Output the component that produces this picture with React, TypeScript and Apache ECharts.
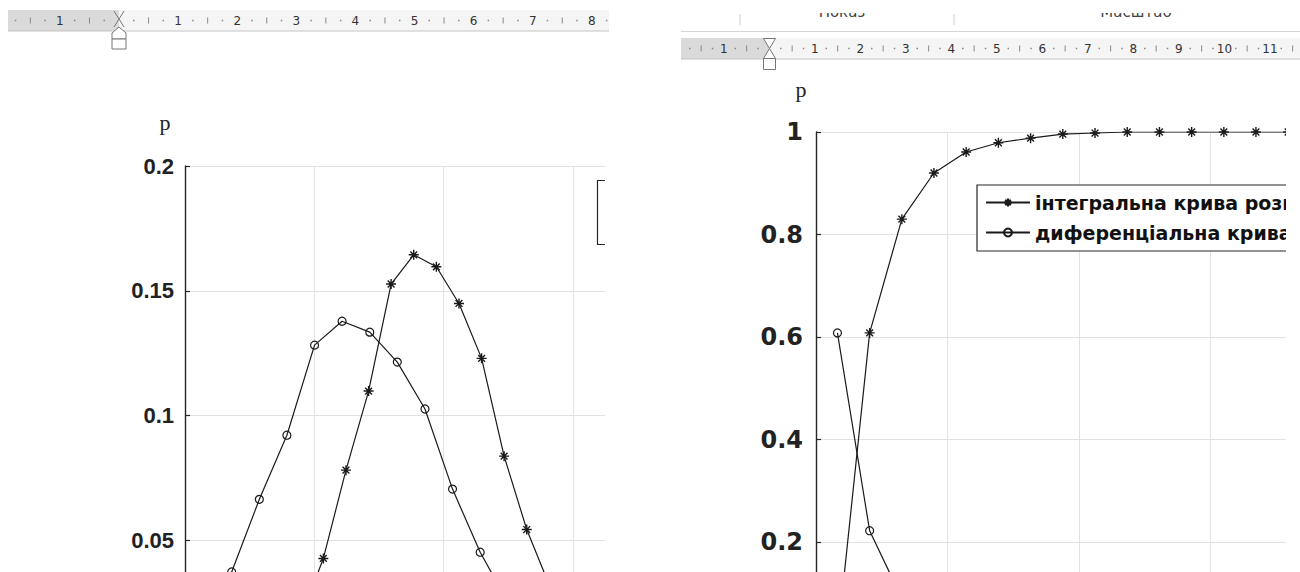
import React, { useEffect, useRef } from "react";
import * as echarts from "echarts";

// ---------- data (left chart: two distributions) ----------
const leftCircleX = [0.148, 0.361, 0.575, 0.788, 1.002, 1.215, 1.429, 1.642, 1.856, 2.069, 2.283, 2.496, 2.71, 2.923, 3.137];
const leftCircleP = [0.016, 0.0373, 0.0664, 0.0921, 0.1282, 0.1378, 0.1334, 0.1214, 0.1026, 0.0705, 0.0452, 0.0253, 0.012, 0.005, 0.002];
const leftStarX = [0.895, 1.07, 1.245, 1.42, 1.594, 1.769, 1.944, 2.119, 2.294, 2.468, 2.643, 2.818, 2.993, 3.168];
const leftStarP = [0.019, 0.0427, 0.0781, 0.1098, 0.1527, 0.1644, 0.1596, 0.1449, 0.1229, 0.0837, 0.0543, 0.032, 0.016, 0.007];
const leftYTicks = [0, 0.05, 0.1, 0.15, 0.2];
const leftYTickLabels = ["", "0.05", "0.1", "0.15", "0.2"];

// ---------- data (right chart: integral & differential curves) ----------
const rightX = [0.163, 0.408, 0.653, 0.897, 1.142, 1.387, 1.632, 1.877, 2.122, 2.367, 2.612, 2.857, 3.102, 3.346, 3.591];
const integralP = [0.01, 0.608, 0.83, 0.92, 0.961, 0.979, 0.988, 0.996, 0.998, 1, 1, 1, 1, 1, 1];
const differentialP = [0.608, 0.222, 0.09, 0.041, 0.018, 0.009, 0.008, 0.002, 0.002, 0, 0, 0, 0, 0, 0];
const rightYTicks = [0, 0.2, 0.4, 0.6, 0.8, 1];
const rightYTickLabels = ["", "0.2", "0.4", "0.6", "0.8", "1"];
const legendNames = ["інтегральна крива розподілу", "диференціальна крива розподілу"];

// ---------- ruler labels ----------
const leftRulerLabels = ["1", "1", "2", "3", "4", "5", "6", "7", "8"];
const rightRulerLabels = ["1", "1", "2", "3", "4", "5", "6", "7", "8", "9", "10", "11"];
const ribbonLabels = ["Показ", "Масштаб"];

const STAR = "path://M5,0L5,10M0,5L10,5M1.6,1.6L8.4,8.4M8.4,1.6L1.6,8.4";
const INK = "#1a1a1a";
const AXIS = "#262626";
const GRIDC = "#e2e2e2";
const WIDE_FONT = "'DejaVu Sans', Verdana, sans-serif";
const ARIAL = "'Liberation Sans', Arial, sans-serif";

const zip = (xs: number[], ys: number[]) => xs.map((x, i) => [x, ys[i]]);

const labelFor = (ticks: number[], labels: string[]) => (v: number) => {
  const i = ticks.findIndex((t) => Math.abs(t - v) < 1e-9);
  return i >= 0 ? labels[i] : "";
};

function rulerGraphics(
  startX: number, endX: number, zeroX: number, unit: number,
  top: number, h: number, labels: string[]
) {
  const els: any[] = [];
  els.push({ type: "rect", z: 110, shape: { x: startX, y: top, width: endX - startX, height: h }, style: { fill: "#f5f5f5", stroke: "none" } });
  els.push({ type: "rect", z: 110, shape: { x: startX, y: top, width: zeroX - startX, height: h }, style: { fill: "#dadada", stroke: "none" } });
  els.push({ type: "line", z: 111, shape: { x1: startX, y1: top + h, x2: endX, y2: top + h }, style: { stroke: "#c4c4c4", lineWidth: 1 } });
  const cy = top + h / 2;
  labels.forEach((lab, i) => {
    const x = i === 0 ? zeroX - unit : zeroX + i * unit;
    if (x > endX - 4) return;
    els.push({ type: "text", z: 112, x, y: cy, style: { text: lab, fill: "#333", font: "12px 'DejaVu Sans', Verdana, sans-serif", align: "center", verticalAlign: "middle" } });
  });
  for (let k = -3; k < labels.length + 1; k++) {
    [0.25, 0.5, 0.75].forEach((f) => {
      const x = zeroX + (k + f) * unit;
      if (x < startX + 3 || x > endX - 2) return;
      if (f === 0.5) {
        els.push({ type: "line", z: 112, shape: { x1: x, y1: cy - 3, x2: x, y2: cy + 3 }, style: { stroke: "#888", lineWidth: 1 } });
      } else {
        els.push({ type: "rect", z: 112, shape: { x: x - 0.75, y: cy - 0.75, width: 1.5, height: 1.5 }, style: { fill: "#888" } });
      }
    });
  }
  return els;
}

function buildOption() {
  const graphic: any[] = [];

  // clipping covers (the reference is two cropped screenshots)
  graphic.push({ type: "rect", z: 100, shape: { x: 605, y: 0, width: 76, height: 700 }, style: { fill: "#fff" } });
  graphic.push({ type: "rect", z: 100, shape: { x: 1286, y: 70, width: 20, height: 640 }, style: { fill: "#fff" } });

  // left legend box (only its left edge is visible)
  graphic.push({ type: "rect", z: 20, shape: { x: 597.5, y: 180.5, width: 60, height: 64 }, style: { fill: "#fff", stroke: AXIS, lineWidth: 1.2 } });

  // left ruler + marker
  graphic.push(...rulerGraphics(8, 609, 119, 59.1, 10, 21, leftRulerLabels));
  graphic.push({ type: "polyline", z: 113, shape: { points: [[114, 11], [124, 27]] }, style: { stroke: "#777", lineWidth: 1, fill: "none" } });
  graphic.push({ type: "polyline", z: 113, shape: { points: [[124, 11], [114, 27]] }, style: { stroke: "#777", lineWidth: 1, fill: "none" } });
  graphic.push({ type: "polygon", z: 113, shape: { points: [[119, 27], [126, 33], [126, 39], [112, 39], [112, 33]] }, style: { stroke: "#777", lineWidth: 1, fill: "#fff" } });
  graphic.push({ type: "rect", z: 113, shape: { x: 112, y: 39, width: 14, height: 10 }, style: { stroke: "#777", lineWidth: 1, fill: "#fff" } });

  // right ribbon header (cut)
  graphic.push({ type: "text", z: 112, x: 842, y: 12, style: { text: ribbonLabels[0], fill: "#444", font: "15px 'DejaVu Sans', Verdana, sans-serif", align: "center", verticalAlign: "middle" } });
  graphic.push({ type: "text", z: 112, x: 1136, y: 12, style: { text: ribbonLabels[1], fill: "#444", font: "15px 'DejaVu Sans', Verdana, sans-serif", align: "center", verticalAlign: "middle" } });
  graphic.push({ type: "rect", z: 114, shape: { x: 681, y: 0, width: 619, height: 13 }, style: { fill: "#fff" } });
  graphic.push({ type: "line", z: 112, shape: { x1: 740, y1: 14, x2: 740, y2: 25 }, style: { stroke: "#d0d0d0", lineWidth: 1 } });
  graphic.push({ type: "line", z: 112, shape: { x1: 954, y1: 14, x2: 954, y2: 25 }, style: { stroke: "#d0d0d0", lineWidth: 1 } });
  graphic.push({ type: "line", z: 112, shape: { x1: 681, y1: 31.5, x2: 1300, y2: 31.5 }, style: { stroke: "#d4d4d4", lineWidth: 1 } });

  // right ruler + marker
  graphic.push(...rulerGraphics(681, 1300, 769.4, 45.5, 38, 21, rightRulerLabels));
  graphic.push({ type: "polygon", z: 113, shape: { points: [[763.5, 38.5], [775.5, 38.5], [769.5, 48.5]] }, style: { stroke: "#777", lineWidth: 1, fill: "#fff" } });
  graphic.push({ type: "polygon", z: 113, shape: { points: [[769.5, 48.5], [775.5, 58.5], [763.5, 58.5]] }, style: { stroke: "#777", lineWidth: 1, fill: "#fff" } });
  graphic.push({ type: "rect", z: 113, shape: { x: 763.5, y: 58.5, width: 12, height: 11 }, style: { stroke: "#777", lineWidth: 1, fill: "#fff" } });

  // "p" axis titles
  graphic.push({ type: "text", z: 30, x: 165, y: 122, style: { text: "p", fill: "#222", font: "22px 'Liberation Serif', 'Times New Roman', serif", align: "center", verticalAlign: "middle" } });
  graphic.push({ type: "text", z: 30, x: 801, y: 89, style: { text: "p", fill: "#222", font: "22px 'Liberation Serif', 'Times New Roman', serif", align: "center", verticalAlign: "middle" } });

  const xAxisCommon = (max: number, gridIndex: number) => ({
    type: "value",
    gridIndex,
    position: "top",
    min: 0,
    max,
    interval: 1,
    axisLine: { show: true, lineStyle: { color: AXIS, width: 1.4 } },
    axisTick: { show: true, inside: true, length: 5, lineStyle: { color: AXIS, width: 1.2 } },
    axisLabel: { show: false },
    splitLine: { show: true, lineStyle: { color: GRIDC, width: 1 } },
  });

  const yAxisCommon = (max: number, interval: number, gridIndex: number, ticks: number[], labels: string[], fs: number, margin: number, family: string) => ({
    type: "value",
    gridIndex,
    min: 0,
    max,
    interval,
    axisLine: { show: true, lineStyle: { color: AXIS, width: 1.4 } },
    axisTick: { show: true, inside: true, length: 5, lineStyle: { color: AXIS, width: 1.2 } },
    axisLabel: {
      show: true,
      margin,
      color: "#222",
      fontSize: fs,
      fontWeight: "bold",
      fontFamily: family,
      formatter: labelFor(ticks, labels),
    },
    splitLine: { show: true, lineStyle: { color: GRIDC, width: 1 } },
  });

  const lineSeries = (name: string, xi: number, data: number[][], star: boolean) => ({
    type: "line",
    name,
    xAxisIndex: xi,
    yAxisIndex: xi,
    data,
    smooth: false,
    symbol: star ? STAR : "circle",
    symbolSize: star ? 10 : 8,
    showSymbol: true,
    clip: true,
    lineStyle: { color: INK, width: 1.2 },
    itemStyle: star
      ? { color: INK, borderColor: INK, borderWidth: 1.4 }
      : { color: "rgba(0,0,0,0)", borderColor: INK, borderWidth: 1.2 },
    emphasis: { disabled: true },
    z: 3,
  });

  return {
    animation: false,
    backgroundColor: "#fff",
    grid: [
      { left: 185, top: 166, width: 455, height: 499 },
      { left: 816, top: 132, width: 484, height: 512.5 },
    ],
    xAxis: [xAxisCommon(3.519, 0), xAxisCommon(3.681, 1)],
    yAxis: [
      yAxisCommon(0.2, 0.05, 0, leftYTicks, leftYTickLabels, 22, 11, ARIAL),
      yAxisCommon(1, 0.2, 1, rightYTicks, rightYTickLabels, 24, 13, WIDE_FONT),
    ],
    legend: {
      show: true,
      data: legendNames,
      orient: "vertical",
      left: 977,
      top: 185,
      itemWidth: 44,
      itemHeight: 10,
      itemGap: 11,
      padding: [8, 60, 9, 8],
      borderColor: AXIS,
      borderWidth: 1.2,
      backgroundColor: "#fff",
      selectedMode: false,
      textStyle: { color: "#111", fontSize: 19, fontWeight: "bold", fontFamily: WIDE_FONT },
      z: 20,
    },
    series: [
      lineSeries("крива 1", 0, zip(leftCircleX, leftCircleP), false),
      lineSeries("крива 2", 0, zip(leftStarX, leftStarP), true),
      lineSeries(legendNames[0], 1, zip(rightX, integralP), true),
      lineSeries(legendNames[1], 1, zip(rightX, differentialP), false),
    ],
    graphic: { elements: graphic },
  };
}

export default function App() {
  const ref = useRef<HTMLDivElement>(null);
  useEffect(() => {
    if (!ref.current) return;
    const chart = echarts.init(ref.current, null, { renderer: "svg" });
    chart.setOption(buildOption() as any);
    return () => chart.dispose();
  }, []);
  return (
    <div
      ref={ref}
      style={{ position: "fixed", left: 0, top: 0, width: 1300, height: 700, background: "#fff" }}
    />
  );
}
